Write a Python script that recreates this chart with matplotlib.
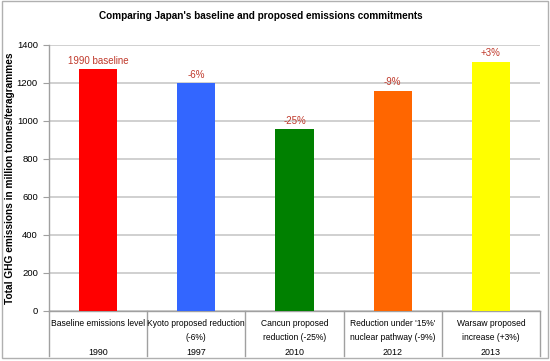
import matplotlib
matplotlib.use("Agg")
import matplotlib.pyplot as plt
from matplotlib.patches import Rectangle

# data
categories = ["Baseline emissions level", "Kyoto proposed reduction\n(-6%)",
              "Cancun proposed\nreduction (-25%)", "Reduction under '15%'\nnuclear pathway (-9%)",
              "Warsaw proposed\nincrease (+3%)"]
years = ["1990", "1997", "2010", "2012", "2013"]
emissions = [1272, 1198, 956, 1159, 1311]
bar_labels = ["1990 baseline", "-6%", "-25%", "-9%", "+3%"]
colors = ["#ff0000", "#3366ff", "#008000", "#ff6600", "#ffff00"]

plt.rcParams['font.family'] = ['Liberation Sans', 'DejaVu Sans']

fig = plt.figure(figsize=(5.5, 3.61), dpi=100)
ax = fig.add_axes([49 / 550, (361 - 311) / 361, 491 / 550, 266 / 361])

x = list(range(len(emissions)))
ax.bar(x, emissions, width=0.39, color=colors, zorder=3)

ax.set_xlim(-0.5, 4.5)
ax.set_ylim(0, 1400)
ax.set_yticks(range(0, 1401, 200))
ax.tick_params(axis='y', labelsize=6.8, length=4, color='#a0a0a0', pad=4)
ax.set_xticks([])
ax.grid(axis='y', color='#c8c8c8', linewidth=1.2, zorder=0)
for side in ['top', 'right']:
    ax.spines[side].set_visible(False)
for side in ['left', 'bottom']:
    ax.spines[side].set_color('#a0a0a0')
    ax.spines[side].set_linewidth(1.0)

# value labels above bars
for i, (v, lab) in enumerate(zip(emissions, bar_labels)):
    ax.annotate(lab, (i, v), xytext=(0, 2.5), textcoords='offset points',
                ha='center', va='bottom', fontsize=7.0, color='#c0392b')

# two-level category axis
trans = ax.get_xaxis_transform()
for b in [-0.5, 0.5, 1.5, 2.5, 3.5, 4.5]:
    ax.plot([b, b], [0, -0.169], transform=trans, color='#a0a0a0',
            linewidth=1.0, clip_on=False)
for i, (cat, yr) in enumerate(zip(categories, years)):
    ax.annotate(cat, (i, 0), xycoords=trans, xytext=(0, -5.5), textcoords='offset points',
                ha='center', va='top', fontsize=6.15, linespacing=1.75)
    ax.annotate(yr, (i, 0), xycoords=trans, xytext=(0, -30), textcoords='offset points',
                ha='center', va='center', fontsize=6.4)

ax.set_ylabel("Total GHG emissions in million tonnes/teragrammes",
              fontsize=7.3, fontweight='bold')
ax.yaxis.set_label_coords(-0.069, 0.5)

fig.text(261 / 550, 1 - 16 / 361, "Comparing Japan's baseline and proposed emissions commitments",
         ha='center', va='center', fontsize=7.2, fontweight='bold')

fig.patches.append(Rectangle((0.004, 0.008), 0.992, 0.988, transform=fig.transFigure,
                             fill=False, edgecolor='#b0b0b0', linewidth=1.0))

fig.savefig("out.png", dpi=100)
